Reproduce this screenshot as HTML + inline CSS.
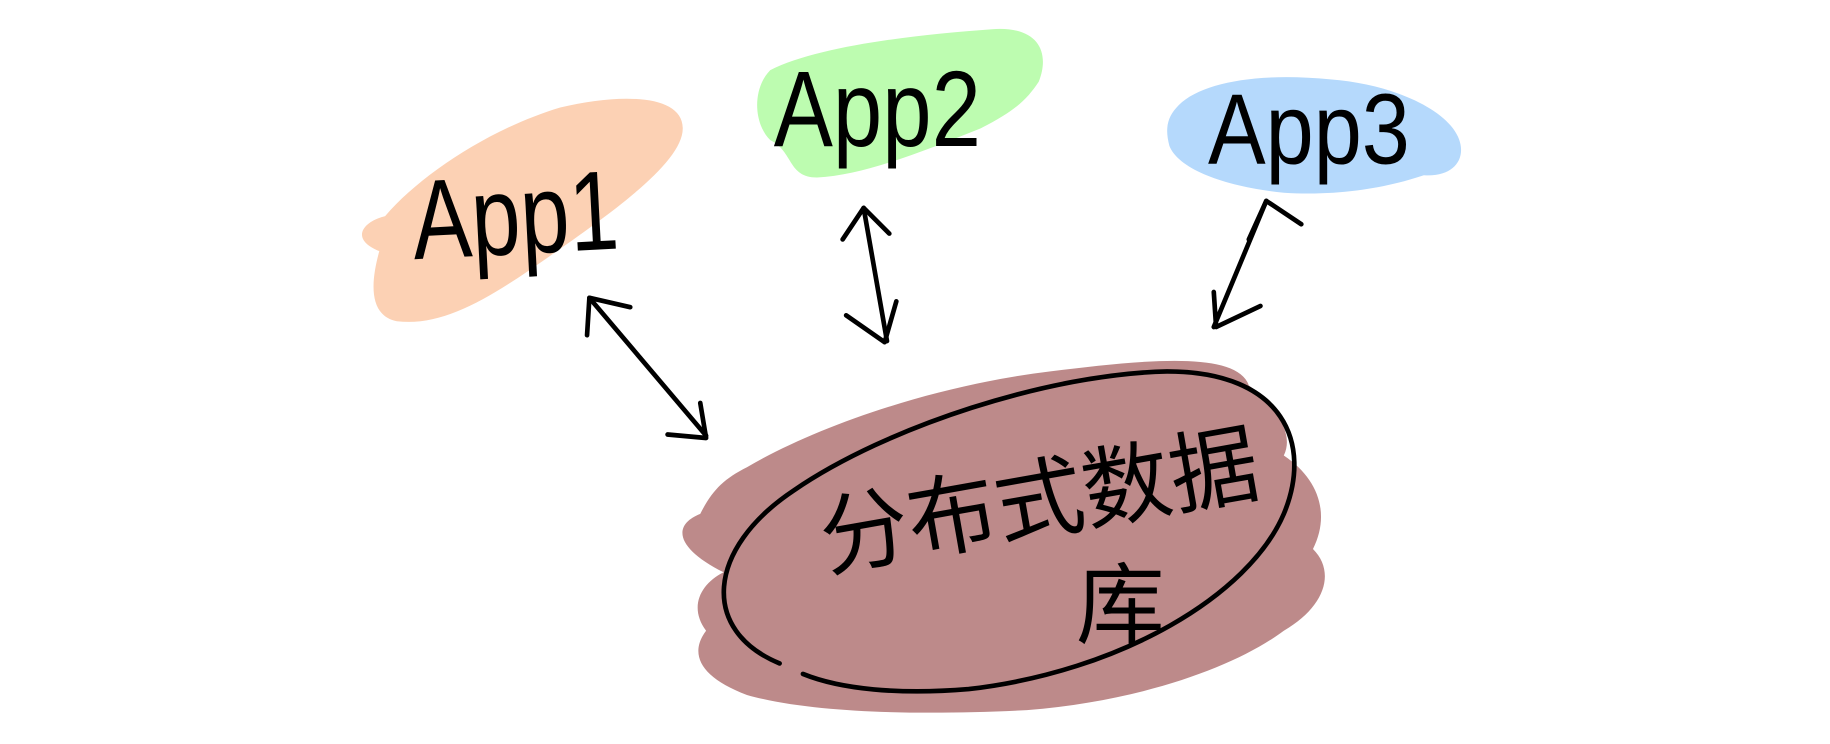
<!DOCTYPE html>
<html><head><meta charset="utf-8"><style>
html,body{margin:0;padding:0;background:#fff;width:1830px;height:744px;overflow:hidden}
svg{display:block}
text{font-family:"Liberation Sans","Noto Sans CJK SC",sans-serif;fill:#000}
</style></head><body>
<svg width="1830" height="744" viewBox="0 0 1568 637" preserveAspectRatio="none">
<path d="M330,185 C360,150 420,110 480,92 C530,80 585,80 585,110 C585,140 520,185 470,220 C420,255 380,280 340,275 C315,270 318,240 325,215 C300,205 310,190 330,185 Z" fill="#fcd1b4"/>
<path d="M660,60 C700,40 780,30 850,25 C890,22 900,45 890,70 C880,85 870,95 840,110 C790,130 740,150 700,152 C675,152 680,130 660,120 C645,105 645,75 660,60 Z" fill="#bdfcb0"/>
<path d="M1010,90 C1030,70 1080,62 1140,68 C1190,72 1230,90 1245,110 C1260,130 1250,152 1220,150 C1190,160 1150,168 1100,165 C1050,160 1010,145 1002,125 C998,110 1000,100 1010,90 Z" fill="#b5d9fc"/>
<path d="M640,400 C700,365 800,330 900,318 C980,308 1060,300 1070,330 C1090,345 1110,370 1100,390 C1130,410 1140,440 1125,470 C1145,490 1135,520 1100,540 C1060,570 980,600 880,608 C800,612 700,612 640,595 C600,580 590,560 605,540 C590,520 600,500 620,490 C580,470 575,450 600,440 C610,420 620,410 640,400 Z" fill="#bd8a8a"/>
<path d="M668,568 C600,540 605,470 680,420 C760,365 900,320 1000,318 C1100,318 1125,380 1100,440 C1070,510 960,575 830,590 C770,595 720,590 688,577" fill="none" stroke="#000" stroke-width="4" stroke-linecap="round"/>
<g fill="none" stroke="#000" stroke-width="4" stroke-linecap="round" stroke-linejoin="round">
<path d="M505,255 L605,373"/><path d="M503,287 L505,255 L540,263"/><path d="M572,372 L605,375 L600,345"/>
<path d="M740,178 L760,292"/><path d="M722,205 L740,178 L762,200"/><path d="M725,270 L758,293 L768,258"/>
<path d="M1085,172 L1040,280"/><path d="M1070,205 L1085,172 L1115,192"/><path d="M1040,250 L1042,280 L1080,262"/>
</g>
<text x="355" y="222" font-size="84" transform="rotate(-3 355 222) translate(355 222) scale(0.9 1.15) translate(-355 -222)">App1</text>
<text x="663" y="125" font-size="80" transform="translate(663 125) scale(0.95 1.15) translate(-663 -125)">App2</text>
<text x="1035" y="140" font-size="78" transform="translate(1035 140) scale(0.95 1.1) translate(-1035 -140)">App3</text>
<text x="708" y="488" font-size="76" transform="rotate(-10 708 488)">分布式数据</text>
<text x="922" y="545" font-size="76">库</text>
</svg>
</body></html>
